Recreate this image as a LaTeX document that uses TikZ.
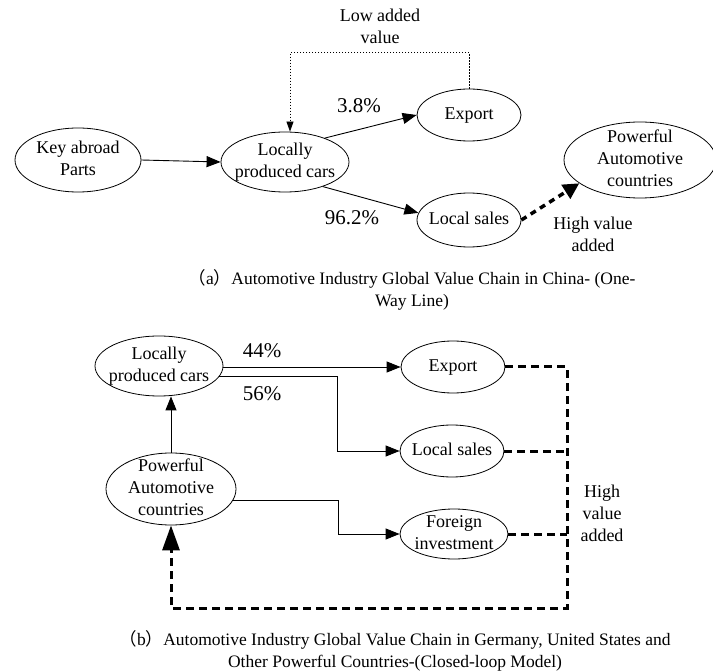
\documentclass[tikz,border=0pt]{standalone}
\usepackage{fontspec}
\setmainfont{Liberation Serif}
\newfontfamily\cjkfont{Noto Sans CJK SC}
\usetikzlibrary{shapes.geometric,arrows.meta,calc}
\newcommand{\ntxt}[1]{\raisebox{-0.25em}[0pt][0pt]{\makebox[0pt]{\begin{tabular}{@{}c@{}}#1\end{tabular}}}}
\newcommand{\fwl}{{\cjkfont （}}
\newcommand{\fwr}{{\cjkfont ）}}
\tikzset{
  ell/.style={draw, ellipse, inner sep=0pt, line width=0.8pt},
  lbl/.style={inner sep=0pt},
  pct/.style={inner sep=0pt, font=\fontsize{21}{25}\selectfont},
  captext/.style={inner sep=0pt, font=\fontsize{17.5}{22}\selectfont},
  solidarrow/.style={line width=0.9pt, -{Triangle[length=14pt,width=11pt]}},
  lowline/.style={line width=0.8pt, dash pattern=on 1.5pt off 1.5pt, -{Triangle[length=10pt,width=7pt]}},
  highdot/.style={line width=3.5pt, dash pattern=on 6pt off 5pt, -{Triangle[length=16pt,width=16pt]}},
  highdash/.style={line width=3pt, dash pattern=on 8pt off 5pt},
}
\begin{document}
\begin{tikzpicture}[x=1pt,y=-1pt,font=\fontsize{18}{22}\selectfont]
\useasboundingbox (0,0) rectangle (713,671);

% ---------- part (a) ----------
\node[ell, minimum width=126pt, minimum height=64pt] (keyA) at (78,160) {\ntxt{Key abroad\\Parts}};
\node[ell, minimum width=128pt, minimum height=60pt] (locA) at (285,162) {\ntxt{Locally\\produced cars}};
\node[ell, minimum width=104pt, minimum height=52pt] (expA) at (469,115) {\ntxt{Export}};
\node[ell, minimum width=104pt, minimum height=54pt] (salA) at (469,220) {\ntxt{Local sales}};
\node[ell, minimum width=152pt, minimum height=76pt] (powA) at (640,160) {\ntxt{Powerful\\Automotive\\countries}};

\node[lbl] (lowA) at (380,28) {\ntxt{Low added\\value}};
\node[pct] (p38) at (359,107) {\ntxt{3.8\%}};
\node[pct] (p962) at (352,219) {\ntxt{96.2\%}};
\node[lbl] (highA) at (593,236) {\ntxt{High value\\added}};
\node[captext] (capA) at (412,291) {\ntxt{\fwl a\fwr Automotive Industry Global Value Chain in China- (One-\\Way Line)}};

\draw[solidarrow] (keyA.east) -- (locA.west);
\draw[solidarrow] (locA.31) -- (expA.west);
\draw[solidarrow] (locA.-33) -- (salA.172);
\draw[lowline] (expA.north) -- ++(0,-36) -| ([xshift=5pt]locA.north);
\draw[highdot] (salA.east) -- (powA.201);

% ---------- part (b) ----------
\node[ell, minimum width=128pt, minimum height=60pt] (locB) at (159,366) {\ntxt{Locally\\produced cars}};
\node[ell, minimum width=104pt, minimum height=52pt] (expB) at (453,367) {\ntxt{Export}};
\node[ell, minimum width=104pt, minimum height=52pt] (salB) at (452,451) {\ntxt{Local sales}};
\node[ell, minimum width=108pt, minimum height=50pt] (forB) at (454,534) {\ntxt{Foreign\\investment}};
\node[ell, minimum width=130pt, minimum height=72pt] (powB) at (171,489) {\ntxt{Powerful\\Automotive\\countries}};

\node[pct] (p44) at (262,352) {\ntxt{44\%}};
\node[pct] (p56) at (262,395) {\ntxt{56\%}};
\node[lbl] (highB) at (602,515) {\ntxt{High\\value\\added}};
\node[captext] (capB) at (395,652) {\ntxt{\fwl b\fwr Automotive Industry Global Value Chain in Germany, United States and\\Other Powerful Countries-(Closed-loop Model)}};

\draw[solidarrow] (powB.north) -- (powB.north |- locB.south);
\draw[solidarrow] (locB.east |- expB.west) -- (expB.west);
\draw[solidarrow] (locB.-10.5) -- ++(118,0) |- (salB.west);
\draw[solidarrow] (powB.-10) -- ++(105,0) |- (forB.west);

\coordinate (railB) at (567,608);
\draw[highdash, -{Triangle[length=25pt,width=17pt]}] (expB.east) -| (railB) -| (powB.south);
\draw[highdash] (salB.east) -- (salB.east -| railB);
\draw[highdash] (forB.east) -- (forB.east -| railB);
\end{tikzpicture}
\end{document}
